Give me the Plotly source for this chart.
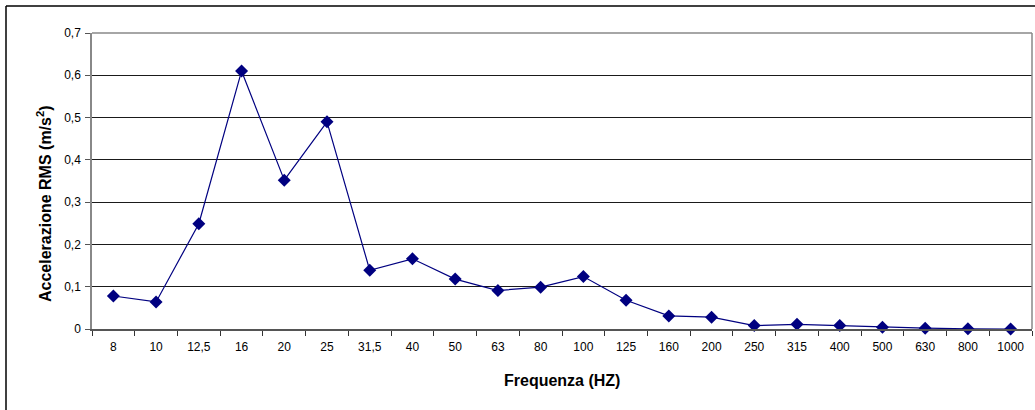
import plotly.graph_objects as go

# Third-octave band centre frequencies and measured RMS acceleration
frequenze = ["8", "10", "12,5", "16", "20", "25", "31,5", "40", "50", "63", "80",
             "100", "125", "160", "200", "250", "315", "400", "500", "630", "800", "1000"]
acc_rms = [0.078, 0.064, 0.249, 0.610, 0.352, 0.490, 0.139, 0.166, 0.118, 0.091, 0.099,
           0.124, 0.068, 0.031, 0.028, 0.008, 0.011, 0.008, 0.004, 0.002, 0.0005, 0.0]

y_tickvals = [0, 0.1, 0.2, 0.3, 0.4, 0.5, 0.6, 0.7]
y_ticktext = ["0", "0,1", "0,2", "0,3", "0,4", "0,5", "0,6", "0,7"]

NAVY = "#000080"
FONT = "Liberation Sans, Arial, sans-serif"

fig = go.Figure()
fig.add_trace(go.Scatter(
    x=frequenze, y=acc_rms, mode="lines+markers",
    line=dict(color=NAVY, width=1.2),
    marker=dict(symbol="diamond", size=10, color=NAVY),
    showlegend=False, cliponaxis=False,
))

W, H = 1035, 410
ML, MR, MT, MB = 92, 3, 33, 81
pw, ph = W - ML - MR, H - MT - MB

fig.update_layout(
    width=W, height=H,
    margin=dict(l=ML, r=MR, t=MT, b=MB),
    paper_bgcolor="white", plot_bgcolor="white",
    font=dict(family=FONT, size=12, color="black"),
    xaxis=dict(
        type="category", categoryorder="array", categoryarray=frequenze,
        tickson="boundaries", ticks="outside", ticklen=5, tickcolor="#333",
        showgrid=False, showline=True, linecolor="#555", linewidth=1.5,
        mirror=False, range=[-0.5, len(frequenze) - 0.5],
        tickfont=dict(size=12, family=FONT), ticklabelstandoff=6,
    ),
    yaxis=dict(
        range=[0, 0.7], tickvals=y_tickvals, ticktext=y_ticktext,
        ticks="outside", ticklen=5, tickcolor="#555",
        showgrid=True, gridcolor="#1a1a1a", gridwidth=1,
        showline=True, linecolor="#888", linewidth=1.5,
        zeroline=False, tickfont=dict(size=12, family=FONT), ticklabelstandoff=2,
    ),
    annotations=[
        dict(text="<b>Frequenza (HZ)</b>", xref="paper", yref="paper",
             x=0.5, y=-(380 - (H - MB)) / ph, xanchor="center", yanchor="middle",
             showarrow=False, font=dict(size=16, family=FONT)),
        dict(text="<b>Accelerazione RMS (m/s<sup>2</sup>)</b>", xref="paper", yref="paper",
             x=(44 - ML) / pw, y=0.5, yshift=-23, xanchor="center", yanchor="middle",
             textangle=-90, showarrow=False, font=dict(size=16, family=FONT)),
    ],
    shapes=[
        # plot-area frame (top and right edges)
        dict(type="line", xref="paper", yref="paper", x0=0, x1=1, y0=1, y1=1,
             line=dict(color="#888", width=1.5)),
        dict(type="line", xref="paper", yref="paper", x0=1, x1=1, y0=0, y1=1,
             line=dict(color="#888", width=1.5)),
        # outer chart border
        dict(type="line", xref="paper", yref="paper",
             x0=(6 - ML) / pw, x1=1.2, y0=1 + (MT - 6) / ph, y1=1 + (MT - 6) / ph,
             line=dict(color="black", width=1.5)),
        dict(type="line", xref="paper", yref="paper",
             x0=(6 - ML) / pw, x1=(6 - ML) / pw, y0=-0.5, y1=1 + (MT - 6) / ph,
             line=dict(color="black", width=1.5)),
    ],
)

fig.write_html("out.html")
